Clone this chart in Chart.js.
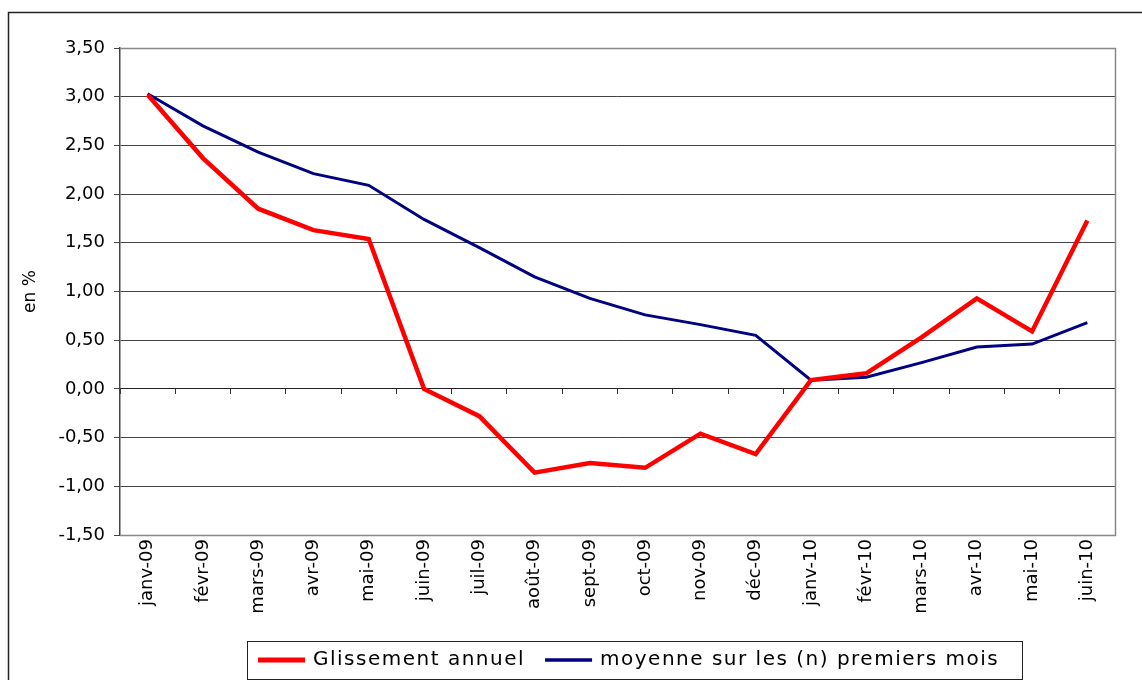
<!DOCTYPE html>
<html>
<head>
<meta charset="utf-8">
<script src="https://cdn.jsdelivr.net/npm/chart.js"></script>
<style>
  body { margin: 0; background: #fff; }
  #wrap { position: absolute; left: 0; top: 0; width: 1142px; height: 680px; }
</style>
</head>
<body>
<div id="wrap"><canvas id="graph" width="1142" height="680"></canvas></div>
<script>
let labels = ['janv-09','févr-09','mars-09','avr-09','mai-09','juin-09','juil-09','août-09','sept-09',
              'oct-09','nov-09','déc-09','janv-10','févr-10','mars-10','avr-10','mai-10','juin-10'];

// glissement annuel
let glissement = [3.02, 2.37, 1.85, 1.63, 1.54, 0.00, -0.28, -0.86, -0.76,
                  -0.81, -0.46, -0.67, 0.09, 0.16, 0.53, 0.93, 0.59, 1.73];

// moyenne sur les (n) premiers mois
let moyenne = [3.03, 2.70, 2.43, 2.21, 2.09, 1.74, 1.45, 1.15, 0.93,
               0.76, 0.66, 0.55, 0.09, 0.12, 0.27, 0.43, 0.46, 0.68];

let yMin = -1.5, yMax = 3.5, yStep = 0.5;

let font = 'DejaVu Sans, Verdana, sans-serif';

// frame, plot border and the boxed legend
let framePlugin = {
    id: 'frame',
    beforeDraw(chart) {
        let c = chart.ctx;
        c.save();
        c.fillStyle = '#fff';
        c.fillRect(0, 0, chart.width, chart.height);
        c.strokeStyle = '#222';
        c.lineWidth = 1.5;
        c.beginPath();
        c.moveTo(8.5, 700);
        c.lineTo(8.5, 12.5);
        c.lineTo(1150, 12.5);
        c.stroke();
        c.restore();
    },
    afterDraw(chart) {
        let c = chart.ctx;
        let a = chart.chartArea;
        c.save();
        c.strokeStyle = '#888';
        c.lineWidth = 1.5;
        c.beginPath();
        c.moveTo(a.left, a.top + 0.5);
        c.lineTo(a.right + 0.5, a.top + 0.5);
        c.lineTo(a.right + 0.5, a.bottom + 0.5);
        c.lineTo(a.left, a.bottom + 0.5);
        c.stroke();

        // legend
        c.strokeStyle = '#222';
        c.lineWidth = 1;
        c.strokeRect(247.5, 641.5, 775, 38);
        c.font = '20px ' + font;
        c.letterSpacing = '1.5px';
        c.fillStyle = '#000';
        c.textBaseline = 'middle';
        let x = 258, y = 660;
        chart.data.datasets.forEach(ds => {
            c.strokeStyle = ds.borderColor;
            c.lineWidth = ds.borderWidth + 0.5;
            c.beginPath();
            c.moveTo(x, y);
            c.lineTo(x + 47, y);
            c.stroke();
            x += 55;
            c.fillText(ds.label, x, y);
            x += c.measureText(ds.label).width + 20;
        });
        c.restore();
    }
};

let ctx = document.querySelector('#graph').getContext('2d');

let myChart = new Chart(ctx, {
    type: 'line',
    data: {
        labels: labels,
        datasets: [{
            label: 'Glissement annuel',
            data: glissement,
            borderColor: '#ff0000',
            backgroundColor: '#ff0000',
            borderWidth: 4.5,
            pointRadius: 0,
            tension: 0
        }, {
            label: 'moyenne sur les (n) premiers mois',
            data: moyenne,
            borderColor: '#000080',
            backgroundColor: '#000080',
            borderWidth: 3,
            pointRadius: 0,
            tension: 0
        }]
    },
    options: {
        responsive: false,
        animation: false,
        layout: { padding: { top: 48, right: 27, left: 0, bottom: 45 } },
        plugins: {
            tooltip: { enabled: false },
            legend: { display: false }
        },
        scales: {
            x: {
                offset: true,
                afterFit(scale) { scale.height = 100; },
                grid: { display: false, drawTicks: false },
                border: { display: false },
                ticks: {
                    minRotation: 90,
                    maxRotation: 90,
                    autoSkip: false,
                    padding: 4,
                    color: '#000',
                    font: { family: font, size: 18 }
                }
            },
            zero: {
                type: 'category',
                axis: 'x',
                labels: labels,
                offset: true,
                position: { y: 0 },
                grid: { offset: true, drawOnChartArea: false, tickLength: 5, color: '#333' },
                border: { color: '#222', width: 1 },
                ticks: { display: false }
            },
            y: {
                min: yMin,
                max: yMax,
                afterFit(scale) { scale.width = 120; },
                ticks: {
                    stepSize: yStep,
                    color: '#000',
                    padding: 9,
                    font: { family: font, size: 18 },
                    callback: v => v.toFixed(2).replace('.', ',')
                },
                grid: { color: '#444', tickLength: 6, lineWidth: 1 },
                border: { color: '#444', width: 1.5 },
                title: {
                    display: true,
                    text: 'en %',
                    color: '#000',
                    padding: { top: 20, bottom: 0 },
                    font: { family: font, size: 17 }
                }
            }
        }
    },
    plugins: [framePlugin]
});
</script>
</body>
</html>
